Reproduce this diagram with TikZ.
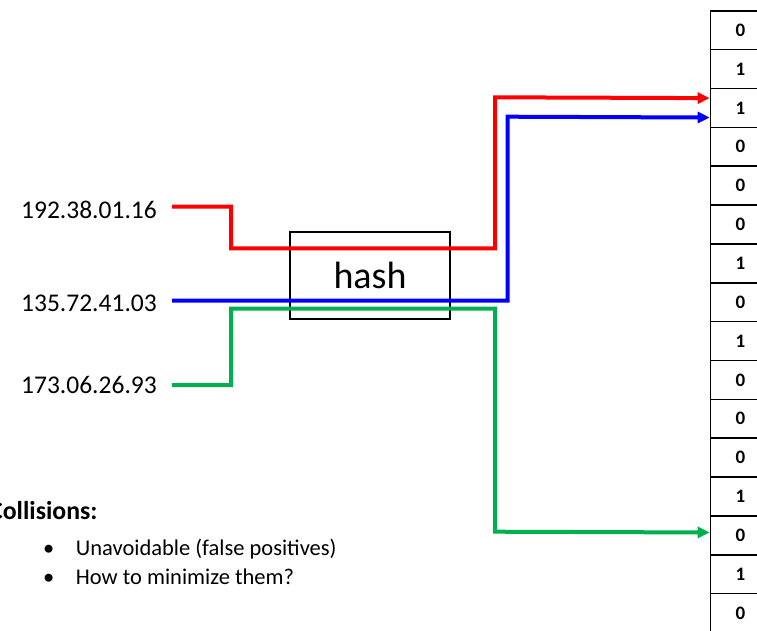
\documentclass[tikz,border=0pt]{standalone}
\usepackage{fontspec}
\setmainfont{Carlito}
\usetikzlibrary{arrows.meta}

\begin{document}
\begin{tikzpicture}[x=1pt,y=-1pt,
  wire/.style={line width=4pt, line join=miter},
  tipped/.style={-{Triangle[length=12pt,width=11pt]}},
  bitcell/.style={draw, line width=1.6pt, minimum width=60pt, minimum height=38.85pt,
    inner sep=0pt, anchor=north west, font=\fontsize{19}{19}\selectfont\bfseries},
  iplabel/.style={inner sep=0pt, anchor=east, font=\fontsize{25.5}{25.5}\selectfont},
  hashbox/.style={draw, line width=1.8pt, minimum width=159.4pt, minimum height=87.3pt,
    inner sep=0pt, font=\fontsize{38}{38}\selectfont},
  note/.style={inner sep=0pt, anchor=base west, font=\fontsize{22.5}{22.5}\selectfont},
]
\useasboundingbox (0,0) rectangle (757,630);
\clip (0,0) rectangle (757,630);

% bit array
\foreach \b [count=\i from 0] in {0,1,1,0,0,0,1,0,1,0,0,0,1,0,1,0}
  \node[bitcell] (c\i) at (709.7,{10+38.85*\i}) {\b};

% hash function box
\node[hashbox] (hash) at (370,275.4) {hash};

% input addresses
\node[iplabel] (a) at (157,210) {192.38.01.16};
\node[iplabel] (b) at (157,303.3) {135.72.41.03};
\node[iplabel] (c) at (157,385) {173.06.26.93};

% hashed paths into the array
\draw[wire, red, tipped] ([xshift=15pt,yshift=3.3pt]a.east) -- (231,206.7) -- (231,248.3)
  -- (495,248.3) -- (495,97.3) -- ([yshift=9.8pt]c2.west);
\draw[wire, blue, tipped] ([xshift=15pt,yshift=2.8pt]b.east) -- (507.7,300.5)
  -- (507.7,116.7) -- ([yshift=-9.6pt]c2.west);
\draw[wire, color={rgb,255:red,0;green,176;blue,80}, tipped] ([xshift=15pt]c.east) -- (231,385)
  -- (231,308.5) -- (495,308.5) -- (495,531.7) -- ([yshift=2.8pt]c13.west);

% notes
\node[note, font=\fontsize{25.8}{25.8}\selectfont\bfseries] (coll) at (-11,519) {Collisions:};
\node[note] (d1) at (43,555) {•};
\node[note] (t1) at (75.7,555) {Unavoidable (false positives)};
\node[note] (d2) at (43,584) {•};
\node[note] (t2) at (75.7,584) {How to minimize them?};
\end{tikzpicture}
\end{document}
